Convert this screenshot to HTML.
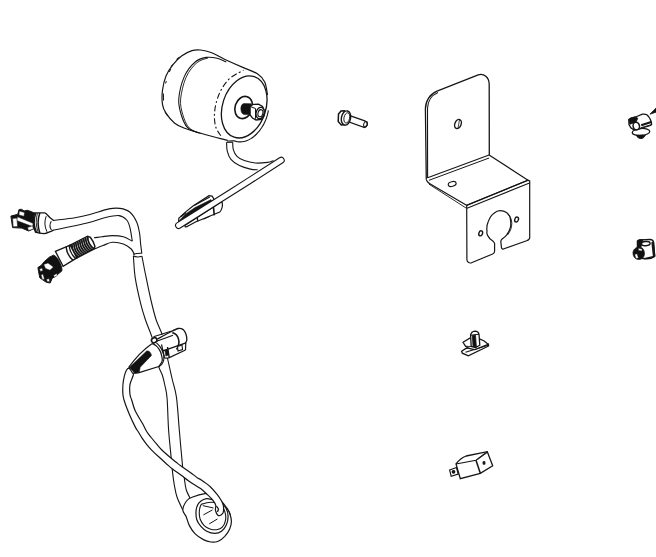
<!DOCTYPE html>
<html><head><meta charset="utf-8"><title>Parts diagram</title>
<style>html,body{margin:0;padding:0;background:#fff;width:656px;height:557px;overflow:hidden;font-family:"Liberation Sans",sans-serif;}</style>
</head><body>
<svg width="656" height="557" viewBox="0 0 656 557" style="display:block"><path d="M178.6 222.5 L178.8 218.2 L185.4 212.1 L193 206 L209 195.7 L212.1 196.1 L213.6 198.4 L213.6 200.8Z" fill="#fff" stroke="#151515" stroke-width="1.2" />
<path d="M179.3 220.5 L185.5 214 L195 207.6 L211 199.6 L212 201.5 L180 222.5Z" fill="#151515" stroke="#151515" stroke-width="0.5" />
<path d="M194.6 205.2 L209.8 196.9" fill="none" stroke="#151515" stroke-width="1.1" />
<path d="M181 216.5 L186 212.5" fill="none" stroke="#151515" stroke-width="1.6" />
<path d="M222 201.5 C222.8 205 222.6 209 219.7 212.1 L199.2 220.5 L196.9 221.2 L188.5 225.8 C187 226.8 186 227.2 185.2 226.8 L184.8 225.6 Z" fill="#fff" stroke="#151515" stroke-width="1.2" />
<path d="M213.4 206.8 L214.3 215.3" fill="none" stroke="#151515" stroke-width="1.6" />
<path d="M197.2 217.5 L197.9 221.5" fill="none" stroke="#151515" stroke-width="1.4" />
<path d="M203.5 219.2 L210 216.2" fill="none" stroke="#151515" stroke-width="1.0" />
<path d="M281.2 160.3 C272.7 165.8 247.1 182.2 230 193 C212.9 203.8 187.2 220 178.6 225.4" fill="none" stroke="#151515" stroke-width="7.1000000000000005" stroke-linecap="round" stroke-linejoin="round"/>
<path d="M281.2 160.3 C272.7 165.8 247.1 182.2 230 193 C212.9 203.8 187.2 220 178.6 225.4" fill="none" stroke="#fff" stroke-width="4.9" stroke-linecap="round" stroke-linejoin="round"/>
<path d="M226.6 142.3 C226.7 143.7 226.5 148.1 227.2 150.9 C227.9 153.8 228.9 157 230.9 159.4 C232.9 161.8 236.2 163.9 239.4 165.5 C242.7 167.1 247.4 168.4 250.4 169.1 C253.4 169.8 256.5 169.7 257.7 169.8 L273.5 160.6 C272.5 160.9 270.4 162 267.4 162.4 C264.3 162.8 259 163.3 255.2 163 C251.3 162.7 247.3 161.7 244.3 160.6 C241.3 159.5 238.8 158.1 237 156.3 C235.2 154.5 234 151.9 233.3 149.6 C232.6 147.3 232.8 143.5 232.7 142.3Z" fill="#fff" stroke="none"/>
<path d="M226.6 142.3 C226.7 143.7 226.5 148.1 227.2 150.9 C227.9 153.8 228.9 157 230.9 159.4 C232.9 161.8 236.2 163.9 239.4 165.5 C242.7 167.1 247.4 168.4 250.4 169.1 C253.4 169.8 256.5 169.7 257.7 169.8" fill="none" stroke="#151515" stroke-width="1.1" />
<path d="M232.7 142.3 C232.8 143.5 232.6 147.3 233.3 149.6 C234 151.9 235.2 154.5 237 156.3 C238.8 158.1 241.3 159.5 244.3 160.6 C247.3 161.7 251.3 162.7 255.2 163 C259 163.3 264.3 162.8 267.4 162.4 C270.4 162 272.5 160.9 273.5 160.6" fill="none" stroke="#151515" stroke-width="1.1" />
<path d="M226.6 142.3 L232.7 142.3" fill="none" stroke="#151515" stroke-width="1.1" />
<path d="M227.6 140.3 C222.1 139.5 212.2 136.5 205 134.5 C197.8 132.5 189.8 130.2 184.7 128.3 C179.6 126.4 177.8 125.8 174.7 123.3 C171.6 120.8 168 116.3 166 113.2 C164 110.1 163.1 108.4 162.5 104.6 C161.9 100.8 161.9 95 162.5 90.2 C163.1 85.4 164.2 80.2 166 75.9 C167.8 71.6 170.5 67.8 173.2 64.4 C175.8 61 178.8 58 181.9 55.7 C185 53.4 188.9 51.6 192 50.6 C195.1 49.6 197.4 49.6 200.7 50 C204 50.4 207.7 51.3 211.7 52.8 C215.7 54.3 219.3 56.8 224.5 59.2 C229.7 61.6 237.3 65 242.8 67.4 C248.3 69.8 253.7 71.4 257.4 73.8 C261 76.2 263 78.5 264.7 82 C266.4 85.5 267.1 90 267.5 95 C267.9 100 267.9 107 267 112 C266.1 117 264.5 121.2 262 125 C259.5 128.8 256 132.6 252 135 C248 137.4 242.1 138.6 238 139.5 C233.9 140.4 233.1 141.1 227.6 140.3Z" fill="#fff" stroke="#151515" stroke-width="0" stroke="none"/>
<path d="M227.6 140.3 C223.8 139.3 212.2 136.5 205 134.5 C197.8 132.5 189.8 130.2 184.7 128.3 C179.6 126.4 177.8 125.8 174.7 123.3 C171.6 120.8 168 116.3 166 113.2 C164 110.1 163.1 108.4 162.5 104.6 C161.9 100.8 161.9 95 162.5 90.2 C163.1 85.4 164.2 80.2 166 75.9 C167.8 71.6 170.5 67.8 173.2 64.4 C175.8 61 178.8 58 181.9 55.7 C185 53.4 188.9 51.6 192 50.6 C195.1 49.6 197.4 49.6 200.7 50 C204 50.4 207.7 51.3 211.7 52.8 C215.7 54.3 219.3 56.8 224.5 59.2 C229.7 61.6 237.3 65 242.8 67.4 C248.3 69.8 253.7 71.4 257.4 73.8 C261 76.2 263 78.5 264.7 82 C266.4 85.5 267 92.8 267.5 95" fill="none" stroke="#151515" stroke-width="1.2" />
<path d="M199 133 C197.1 132.1 190.4 130.6 187.4 127.4 C184.4 124.2 182.4 118.8 181 114 C179.6 109.2 178.2 104.7 178.8 98.5 C179.4 92.3 181.6 82.7 184.3 76.6 C187 70.5 191.5 65.2 195.2 62 C198.8 58.8 202.5 58 206.2 57.4 C209.9 56.8 213.8 57.5 217.2 58.3 C220.5 59.1 224.8 61.4 226.3 62" fill="none" stroke="#151515" stroke-width="1.1" />
<path d="M200.8 133.6 C198.9 132.7 192.2 131.2 189.2 128 C186.2 124.8 184.2 119.4 182.8 114.6 C181.4 109.8 180.1 105.3 180.6 99.1 C181.2 92.9 183.4 83.3 186.1 77.2 C188.8 71.1 193.3 65.8 197 62.6 C200.7 59.4 206.2 58.8 208 58" fill="none" stroke="#151515" stroke-width="0.9" />
<path d="M220.8 135.8 C220 134.5 217.1 130.9 216 127.7 C214.9 124.5 214.4 120.4 214.4 116.4 C214.4 112.4 214.9 107.8 216 103.5 C217.1 99.2 218.7 94.5 220.8 90.5 C223 86.5 225.9 82.2 228.9 79.2 C231.9 76.2 236.2 74.3 238.6 72.8 C241 71.3 242.7 70.7 243.5 70.3" fill="none" stroke="#151515" stroke-width="1.1" stroke-dasharray="6 2.5 2 2.5"/>
<path d="M176.5 59.2 L179.5 57" fill="none" stroke="#151515" stroke-width="1.0" />
<path d="M169.3 72 L170.8 69" fill="none" stroke="#151515" stroke-width="1.0" />
<path d="M165.6 83.5 L166.3 81" fill="none" stroke="#151515" stroke-width="1.0" />
<path d="M163.4 93.5 L163.5 100.5" fill="none" stroke="#151515" stroke-width="1.0" />
<path d="M165 112 L167.8 116.3" fill="none" stroke="#151515" stroke-width="1.0" />
<path d="M171 66.5 L172.5 64.5" fill="none" stroke="#151515" stroke-width="1.0" />
<ellipse cx="244.2" cy="106.9" rx="21.6" ry="31.9" transform="rotate(18.4 244.2 106.9)" fill="#fff" stroke="#151515" stroke-width="1.3"/>
<path d="M268.4 110.4 C268.3 111.2 267.8 113.4 267.4 114.9 C267 116.3 266.5 117.8 266 119.2 C265.4 120.6 264.8 122 264.1 123.4 C263.5 124.7 262.7 126 261.9 127.3 C261.1 128.5 260.3 129.7 259.4 130.9 C258.5 132 257.6 133 256.6 134 C255.6 135 254.6 135.9 253.6 136.7 C252.6 137.5 251.5 138.2 250.4 138.9 C249.4 139.5 248.3 140.1 247.2 140.5 C246.1 140.9 245 141.3 243.9 141.5 C242.8 141.7 241.7 141.9 240.6 141.9 C239.5 141.9 238.5 141.9 237.4 141.7 C236.4 141.5 236.1 141 234.4 140.9 C232.7 140.7 228.2 141 227 141" fill="none" stroke="#151515" stroke-width="1.1" />
<ellipse cx="243.7" cy="107.5" rx="8.6" ry="11.3" transform="rotate(18 243.7 107.5)" fill="#fff" stroke="#151515" stroke-width="1.6"/>
<path d="M251.3 103.8 L244 103.6 C241.5 103.8 240.8 107 240.9 109 C241 112 242 114.3 244.5 114.6 L251.3 114.6 Z" fill="#111" stroke="#151515" stroke-width="0.6" />
<path d="M250.1 106.5 L253 104.4 L258.5 104.2 L262.5 106.5 L264.1 110 L264 116 L261.5 119.5 L256 120 L252.5 118 L250.1 115Z" fill="#fff" stroke="#151515" stroke-width="1.3" />
<path d="M250.1 106.5 L255.5 108.5 L255.5 118.8" fill="none" stroke="#151515" stroke-width="1.0" />
<ellipse cx="260.1" cy="113" rx="4" ry="5.8" transform="rotate(15 260.1 113)" fill="#fff" stroke="#151515" stroke-width="1.3"/>
<ellipse cx="260.4" cy="113.2" rx="2.4" ry="3.6" transform="rotate(15 260.4 113.2)" fill="#fff" stroke="#151515" stroke-width="1.1"/>
<path d="M347 114.6 L364.8 120.9 L366.8 122.2 L367.3 125 L364.5 127.6 L346.5 121Z" fill="#fff" stroke="#151515" stroke-width="1.2" />
<ellipse cx="365.5" cy="124.3" rx="1.8" ry="2.9" transform="rotate(15 365.5 124.3)" fill="none" stroke="#151515" stroke-width="1.0"/>
<path d="M338.5 114 L341 111 L344.5 110.8 L345 124.5 L341.3 125 L338.2 121.5Z" fill="#fff" stroke="#151515" stroke-width="1.5" />
<ellipse cx="346" cy="118" rx="4.6" ry="7.2" transform="rotate(12 346 118)" fill="#fff" stroke="#151515" stroke-width="1.4"/>
<ellipse cx="346.8" cy="117.9" rx="2.8" ry="5.2" transform="rotate(12 346.8 117.9)" fill="none" stroke="#151515" stroke-width="0.9"/>
<path d="M426.3 179.5 L425.4 109 C425.4 101 430 94 437 91.2 L478.2 74.8 C484 73 489 77.5 489.2 84 L489.3 155" fill="#fff" stroke="#151515" stroke-width="1.3" />
<path d="M427.6 178 L427.5 108.5 C427.7 101 432 95 438 92.5" fill="none" stroke="#151515" stroke-width="1.1" />
<path d="M489.1 155 L427.6 177.7" fill="none" stroke="#151515" stroke-width="1.1" />
<path d="M489.1 158 L429 180.3" fill="none" stroke="#151515" stroke-width="1.0" />
<path d="M426.3 179.5 C427 182 429 183.5 432 185 L466.5 205.3" fill="none" stroke="#151515" stroke-width="1.2" />
<path d="M489.1 155 L528 180.2" fill="none" stroke="#151515" stroke-width="1.2" />
<path d="M429 184.2 L466 208" fill="none" stroke="#151515" stroke-width="0.9" />
<path d="M466.7 205.5 L466.9 259.5 C467 262 469 263.5 471.5 262.8 L492.7 254 C494 253.5 494.6 252.5 494.6 251 L494.6 243.4 C494 241 491.5 240 490.2 239 C487.5 236 486.5 233 487 231.4 C486.5 227 487 224 488.3 221.4 C490 217 492 214.5 494 213.2 C496 211.5 498 210.7 500.2 210.7 C503 210.7 505 211.5 506.5 212.6 C509 214.5 510.3 216.5 510.3 218.9 C511 222 511 225 510.3 227.6 C509.5 231 508 233 506.5 235.2 C505 237 503.5 238 502.1 239 C501 240 500.8 241 500.8 241.5 L501.5 247.8 C502 249 503 249.3 503.4 249 L526.6 240.8 C528.5 240 529.7 239 529.7 237.7 L529.7 181 L528 180.2 Z" fill="#fff" stroke="#151515" stroke-width="1.2" />
<path d="M508 214.5 C510.8 217 511.8 220 511.8 223.5 C511.8 228 510 232 507.5 235" fill="none" stroke="#151515" stroke-width="0.9" />
<path d="M466.5 205.3 L528 180.2" fill="none" stroke="#151515" stroke-width="1.1" />
<path d="M467 208.2 L529.5 183" fill="none" stroke="#151515" stroke-width="1.1" />
<ellipse cx="452.2" cy="184" rx="4" ry="2.3" transform="rotate(-15 452.2 184)" fill="none" stroke="#151515" stroke-width="1.2"/>
<ellipse cx="458" cy="124" rx="3.1" ry="4.7" transform="rotate(22 458 124)" fill="none" stroke="#151515" stroke-width="1.4"/>
<path d="M459.5 119.8 L458 128" fill="none" stroke="#151515" stroke-width="0.8" />
<ellipse cx="480.7" cy="233.3" rx="1.8" ry="2.6" transform="rotate(20 480.7 233.3)" fill="none" stroke="#151515" stroke-width="1.4"/>
<ellipse cx="516.6" cy="219.5" rx="1.8" ry="2.6" transform="rotate(20 516.6 219.5)" fill="none" stroke="#151515" stroke-width="1.4"/>
<ellipse cx="641" cy="132" rx="8.8" ry="3.5" transform="rotate(-4 641 132)" fill="#fff" stroke="#151515" stroke-width="1.3"/>
<path d="M636.3 135.2 C638 139.5 643.5 139.8 645.3 135.2 Z" fill="#111" stroke="#151515" stroke-width="1" />
<path d="M628.8 119.5 L631 118 L635.6 117 L642.4 114.2 C644 113.9 645.8 114.1 646.8 114.8 C648.5 116 650 118.5 651.3 121.7 L651.6 124.5 L650.5 125.5 L640.4 128.5 C637 130 633 129.8 631 128 L629 124.5 Z" fill="#fff" stroke="#151515" stroke-width="1.3" />
<path d="M628.8 119.5 L631 118 L635.6 117 L637.8 118.2 L636.2 121.8 L633 123.2 L629.8 124.2 Z" fill="#111" stroke="#151515" stroke-width="0.8" />
<ellipse cx="636.3" cy="126.1" rx="3.2" ry="3.8" transform="rotate(-10 636.3 126.1)" fill="#fff" stroke="#151515" stroke-width="1.5"/>
<path d="M641.2 125.2 L651.2 122" fill="none" stroke="#151515" stroke-width="2.2" />
<path d="M640.5 127.9 L650.8 124.8" fill="none" stroke="#151515" stroke-width="1.0" />
<path d="M649.9 114.2 L656 108.1 L656 112.2Z" fill="#111" stroke="#151515" stroke-width="0.8" />
<path d="M637.5 241 C638.5 239.5 642 239.5 650 239.5 C652 239.5 653.3 240.5 653.6 242.5 L654.5 256.5 C652 258.5 648 259 645 258.8 L640 258 L637.5 247 Z" fill="#fff" stroke="#151515" stroke-width="1.5" />
<path d="M637.5 241 C638.5 239.5 641 239.3 643 239.6 L642 243 L641 247 L638 247.5 Z" fill="#111" stroke="#151515" stroke-width="0.8" />
<ellipse cx="645.8" cy="243.6" rx="4.3" ry="2.1" transform="rotate(-5 645.8 243.6)" fill="#fff" stroke="#151515" stroke-width="1.4"/>
<path d="M652.6 242 L654.2 256.5" fill="none" stroke="#151515" stroke-width="2.6" />
<path d="M644.5 258.6 L654 256.5" fill="none" stroke="#151515" stroke-width="1.4" />
<path d="M633 253 C633 249.5 636 247 639.5 247 C643 247.2 644.5 250.5 644.4 254 C644.3 257.5 641.5 259.5 638.5 259.5 C635 259.3 633 256.5 633 253 Z" fill="#111" stroke="#151515" stroke-width="0.8" />
<path d="M634.8 254.5 L637 253.8 L638.4 258 L636 258.4Z" fill="#fff" stroke="#151515" stroke-width="0.3" />
<path d="M638.6 248.3 L642.2 249.2 L641.8 251 L638.4 250.3Z" fill="#fff" stroke="#151515" stroke-width="0.3" />
<path d="M461.6 351.2 L465.6 348.6 L488.2 343.9 L488.6 346 L468.3 355.8 L462.3 353.2 Z" fill="#fff" stroke="#151515" stroke-width="1.3" />
<path d="M465.5 352.3 L488 345.3" fill="none" stroke="#151515" stroke-width="1.1" />
<path d="M463 342.3 L469.8 338.2 L479.6 339 L484.2 341 L488.2 344.3 L474.9 349.6 C471 349.2 467.5 348 465.6 346.3 Z" fill="#fff" stroke="#151515" stroke-width="1.3" />
<path d="M470.6 335 C471 333 473 331.3 475 331.1 C477.3 331.1 478.6 332.3 479 334.3 L479.8 345.2 L475.5 347.6 L471.2 346.5 Z" fill="#fff" stroke="#151515" stroke-width="1.3" />
<path d="M472.4 335.6 L475.5 335.2 L476.4 347.2 L473 346.6 Z" fill="#111" stroke="#151515" stroke-width="0.8" />
<path d="M470.8 335.3 L474.5 334.8 L479 334.3" fill="none" stroke="#151515" stroke-width="1.1" />
<path d="M471.2 346.5 L465.6 346.3" fill="none" stroke="#151515" stroke-width="0.9" />
<path d="M449.6 470 L456.5 467.5 L458.2 474 L451.2 476.3Z" fill="#fff" stroke="#151515" stroke-width="1.2" />
<ellipse cx="453.5" cy="471.8" rx="1.2" ry="1.2" transform="rotate(0 453.5 471.8)" fill="#111" stroke="#151515" stroke-width="1.4"/>
<path d="M456 464 C459 460 462 457.5 466.2 456 L487.3 451.7 L492.7 465.7 L480.3 473.3 L460.3 478.6 Z" fill="#fff" stroke="#151515" stroke-width="1.3" />
<path d="M456 464 L476 460.3 L487.3 451.7" fill="none" stroke="#151515" stroke-width="1.2" />
<path d="M476 460.3 L480.3 473.3" fill="none" stroke="#151515" stroke-width="1.5" />
<path d="M477.5 459.5 L488 452" fill="none" stroke="#151515" stroke-width="0.8" />
<ellipse cx="484" cy="462.9" rx="0.9" ry="1.3" transform="rotate(0 484 462.9)" fill="#111" stroke="#151515" stroke-width="1.3"/>
<path d="M133.4 256 C133.7 259.6 134 269.7 135.2 277.6 C136.4 285.5 138.9 296.3 140.6 303.4 C142.3 310.5 143.6 314.4 145.5 320 C147.4 325.6 150.3 331.9 152 337.2 C153.7 342.5 154.4 347.1 155.5 352 C156.6 356.9 157.6 362.8 158.7 366.6 C159.8 370.4 161.3 371.9 162.3 375 C163.3 378.1 164 381.1 164.8 385 C165.6 388.9 166.5 391 167.1 398.5 C167.7 406 167.9 420.1 168.6 430 C169.3 439.9 170.6 451.4 171.2 458 C171.8 464.6 171.8 465.3 172.3 469.9 C172.8 474.5 173.6 481 174.4 485.5 C175.2 490 175.6 492.9 177 497 C178.4 501.1 181.8 507.8 182.8 509.9 L191.4 500.6 C190.6 498.8 187.5 493.9 186.3 490 C185.1 486.1 184.8 481.3 184.2 477.4 C183.6 473.5 183.4 474.5 182.6 466.6 C181.8 458.7 180.3 441.6 179.3 430 C178.3 418.4 177.6 405.2 176.4 396.9 C175.2 388.6 173.8 386 172.4 380 C171 374 169.7 368.3 168.1 361 C166.5 353.7 164.7 343 162.7 336.2 C160.7 329.4 158.2 326.1 156.2 320 C154.2 313.9 152.6 307.2 150.8 299.5 C149 291.8 146.8 280.8 145.3 273.5 C143.8 266.2 142.5 258.9 141.9 256Z" fill="#fff" stroke="none"/>
<path d="M133.4 256 C133.7 259.6 134 269.7 135.2 277.6 C136.4 285.5 138.9 296.3 140.6 303.4 C142.3 310.5 143.6 314.4 145.5 320 C147.4 325.6 150.3 331.9 152 337.2 C153.7 342.5 154.4 347.1 155.5 352 C156.6 356.9 157.6 362.8 158.7 366.6 C159.8 370.4 161.3 371.9 162.3 375 C163.3 378.1 164 381.1 164.8 385 C165.6 388.9 166.5 391 167.1 398.5 C167.7 406 167.9 420.1 168.6 430 C169.3 439.9 170.6 451.4 171.2 458 C171.8 464.6 171.8 465.3 172.3 469.9 C172.8 474.5 173.6 481 174.4 485.5 C175.2 490 175.6 492.9 177 497 C178.4 501.1 181.8 507.8 182.8 509.9" fill="none" stroke="#151515" stroke-width="1.1" />
<path d="M141.9 256 C142.5 258.9 143.8 266.2 145.3 273.5 C146.8 280.8 149 291.8 150.8 299.5 C152.6 307.2 154.2 313.9 156.2 320 C158.2 326.1 160.7 329.4 162.7 336.2 C164.7 343 166.5 353.7 168.1 361 C169.7 368.3 171 374 172.4 380 C173.8 386 175.2 388.6 176.4 396.9 C177.6 405.2 178.3 418.4 179.3 430 C180.3 441.6 181.8 458.7 182.6 466.6 C183.4 474.5 183.6 473.5 184.2 477.4 C184.8 481.3 185.1 486.1 186.3 490 C187.5 493.9 190.6 498.8 191.4 500.6" fill="none" stroke="#151515" stroke-width="1.1" />
<path d="M53 220.5 C56.7 220 68.8 218.7 75 217.7 C81.2 216.7 84.3 216 90 214.5 C95.7 213 103.9 209.9 108.9 208.9 C113.9 207.9 116.5 207.9 120 208.4 C123.5 208.9 127.2 209.9 130 212.2 C132.8 214.5 135.2 218.8 136.8 222.3 C138.4 225.8 138.9 229.7 139.6 233.4 C140.2 237.1 140.3 241.2 140.7 244.5 C141.1 247.8 141.6 252 141.8 253.5" fill="none" stroke="#151515" stroke-width="1.1" />
<path d="M54 230 C57.5 229.3 69 227.1 75 225.8 C81 224.5 85.1 223.6 90 222.3 C94.9 221 99.7 218.9 104.5 217.8 C109.3 216.7 115.3 215.2 119 215.6 C122.7 216 124.9 218 126.7 220 C128.5 222 129.1 224.3 130 227.8 C130.9 231.3 131.9 239 132.3 241.2" fill="none" stroke="#151515" stroke-width="1.1" />
<path d="M94 237.8 C95.3 237.6 99 237.2 102 236.8 C105 236.4 108.7 235.6 112.3 235.6 C115.9 235.6 120.1 235.8 123.4 236.7 C126.7 237.6 130.8 240.4 132.3 241.2" fill="none" stroke="#151515" stroke-width="1.1" />
<path d="M94.2 249.1 C95.7 248.5 100 246.6 103 245.5 C106 244.4 108.9 242.6 112.3 242.3 C115.7 242.1 120.2 242.9 123.4 244 C126.6 245.1 129.3 247.2 131.2 249 C133 250.8 133.9 253.7 134.5 254.6" fill="none" stroke="#151515" stroke-width="1.1" />
<path d="M132.9 254.3 C135 253.8 139 253.2 141.8 253.3" fill="none" stroke="#151515" stroke-width="1.1" />
<path d="M133.2 255.8 C136 257.5 139 257.2 141.9 256.3" fill="none" stroke="#151515" stroke-width="1.2" />
<path d="M182.8 509.9 C182.7 512.5 185 513.9 186.1 516.5 C187.2 519.1 187.9 522.7 189.4 525.6 C190.9 528.5 192.9 531.5 195.2 533.8 C197.5 536.1 200.8 538.2 203.4 539.6 C206 541 208.3 541.7 210.8 542 C213.3 542.3 215.9 542.2 218.2 541.2 C220.5 540.2 222.9 538.3 224.8 536.3 C226.7 534.2 228.6 531.4 229.7 528.9 C230.8 526.4 231.4 524.1 231.4 521.5 C231.4 518.9 230.5 515.5 229.7 513.2 C228.9 510.9 227.8 509.5 226.4 507.5 C225 505.5 223.4 503.1 221 501 C218.6 498.9 214.7 496.2 212 495 C209.3 493.8 208.2 493.2 204.9 493.6 C201.6 494 195.1 496 192 497.2 C188.9 498.4 188 498.9 186.5 501 C185 503.1 182.9 507.3 182.8 509.9Z" fill="#fff" stroke="#151515" stroke-width="1.2" />
<path d="M225 506.6 C225.6 507.2 227.6 509.1 228.5 510.5 C229.4 511.9 230.1 514.2 230.4 515" fill="none" stroke="#151515" stroke-width="1.0" />
<path d="M197.6 505 C196.8 506.8 196.1 509.1 196 511.6 C195.9 514.1 196 517.3 196.8 519.8 C197.6 522.3 199.2 524.5 200.9 526.4 C202.6 528.3 204.4 530.1 206.7 531.3 C209 532.5 212.4 533.4 214.9 533.4 C217.4 533.4 219.6 532.7 221.5 531.3 C223.4 529.9 225.3 527.3 226.4 524.8 C227.5 522.3 228.1 519.1 228.1 516.5 C228.1 513.9 227.6 511.5 226.4 509.1 C225.2 506.7 223.5 503.6 221 502 C218.5 500.4 213.8 499.9 211.4 499.4 C209 498.8 208.1 498.4 206.4 498.7 C204.7 499 202.5 499.9 201 501 C199.5 502.1 198.4 503.2 197.6 505Z" fill="#fff" stroke="#151515" stroke-width="1.2" />
<path d="M200.9 505 C200.2 506.3 199.4 509.3 199.3 511.6 C199.2 513.9 199.3 516.7 200.1 519 C200.9 521.3 202.5 524 204.2 525.6 C205.8 527.2 207.9 528.2 210 528.9 C212.1 529.6 214.5 530 216.6 529.7 C218.7 529.4 220.8 528.9 222.3 527.2 C223.8 525.6 225.2 522.4 225.6 519.8 C226 517.2 225.6 514 224.8 511.6 C224 509.2 222.8 507 221 505.5 C219.2 504 216 503 214.3 502.5 C212.6 502 212.5 502.1 210.7 502.3 C208.9 502.5 205.1 503.2 203.5 503.7 C201.9 504.1 201.6 503.7 200.9 505Z" fill="#fff" stroke="#151515" stroke-width="1.1" />
<path d="M203.4 514.9 L212.5 509.9" fill="none" stroke="#151515" stroke-width="1.0" />
<path d="M209.2 523.9 L217.4 519" fill="none" stroke="#151515" stroke-width="1.0" />
<path d="M202.8 505.6 L213.5 508" fill="none" stroke="#151515" stroke-width="1.0" />
<path d="M127.8 368.6 C126.1 369.8 124.3 376 123.5 380.1 C122.7 384.2 122.7 389.7 122.8 393 C122.9 396.3 123 396.6 124 400 C125 403.4 127.1 409 129 413.5 C130.9 418 133.6 423.8 135.2 426.9 C136.8 430 137.2 430.1 138.4 432 C139.6 433.9 140.7 436 142.1 438.1 C143.5 440.2 145.4 442.8 147 444.8 C148.6 446.8 149.9 448.3 151.9 450.3 C153.9 452.3 156.6 454.8 159 457 C161.4 459.2 164.1 461.7 166.3 463.7 C168.6 465.7 169.7 466.9 172.5 469 C175.3 471.1 179.8 474.2 183 476.6 C186.2 479 189.1 481.2 192 483.2 C194.9 485.2 198.1 486.7 200.6 488.6 C203.1 490.5 205.1 492.5 207.1 494.4 C209.1 496.3 211.4 498.3 212.8 500.1 C214.2 501.9 215.2 503.4 215.7 505.1 C216.1 506.8 215.1 508.8 215.5 510.5 C215.9 512.2 217 514.5 217.9 515.2 C218.8 516 220.1 515.5 221 515 C221.9 514.5 222.8 513.5 223.2 512.5 C223.6 511.4 223.6 509.9 223.6 508.7 C223.6 507.4 223.6 506.3 223.2 505 C222.8 503.7 222.4 502.6 221.4 500.8 C220.4 499 219 496.8 217.1 494.4 C215.2 492 212.6 488.9 210 486.5 C207.4 484.1 203.4 481.4 201.3 480 C199.2 478.6 199.4 479.2 197.6 477.9 C195.8 476.6 192.8 474.2 190.3 472.4 C187.8 470.6 184.6 468.4 182.4 466.9 C180.2 465.3 179.2 464.6 177.3 463.1 C175.4 461.7 173.8 460.4 171.2 458.2 C168.6 456 164 452 161.6 449.7 C159.2 447.4 158.4 446.2 156.7 444.2 C155 442.2 152.8 439.5 151.2 437.5 C149.6 435.5 148.5 434.4 147 432 C145.5 429.6 144.4 426.8 142.4 423.3 C140.4 419.8 137 414.7 135.2 410.8 C133.4 406.9 132.6 402.7 131.7 400 C130.8 397.3 130.3 397.1 130 394.5 C129.7 391.9 129.4 388 130 384.4 C130.6 380.8 134 375.6 133.6 373 C133.2 370.4 129.5 367.4 127.8 368.6Z" fill="#fff" stroke="#151515" stroke-width="1.2" />
<path d="M216.5 506 L218.5 509 L217.5 512" fill="none" stroke="#151515" stroke-width="1.3" />
<path d="M153 338 L169.5 332.3 L178.2 328.5 C181 327.8 183.5 329 186 334.2 C187 337 187 340 185.8 342.8 L185.5 350 L168.8 358 L164.5 358.2 L160 346 Z" fill="#fff" stroke="stroke="none"" stroke-width="0" />
<path d="M157.3 339.2 C159.3 338.1 166 334.3 169.5 332.5 C173 330.7 175.9 329 178.2 328.5 C180.5 328 181.9 328.7 183.2 329.6 C184.5 330.6 185.4 332.5 186 334.2 C186.6 335.9 186.9 338.5 186.8 340 C186.7 341.5 185.7 342.5 185.5 343" fill="none" stroke="#151515" stroke-width="1.3" />
<path d="M153.5 336.8 L171.7 331" fill="none" stroke="#151515" stroke-width="1.2" />
<path d="M156 341.5 L173 335.3" fill="none" stroke="#151515" stroke-width="1.2" />
<path d="M172.4 332.5 C173.1 333 175.6 333.9 176.7 335.3 C177.8 336.7 178.7 338.9 178.9 340.7 C179.2 342.5 178.6 344.9 178.2 346.4 C177.8 347.9 176.8 349 176.5 349.5" fill="none" stroke="#151515" stroke-width="1.6" />
<path d="M162.5 351 L169.5 348.6 L186 342.8" fill="none" stroke="#151515" stroke-width="1.4" />
<path d="M164.5 358.2 L168.8 357.9 L185.5 350" fill="none" stroke="#151515" stroke-width="1.3" />
<path d="M185.8 342.8 L185.5 350" fill="none" stroke="#151515" stroke-width="1.2" />
<path d="M161.5 344.5 L164.5 358" fill="none" stroke="#151515" stroke-width="1.2" />
<path d="M167.5 347 L169.3 357.8" fill="none" stroke="#151515" stroke-width="1.4" />
<path d="M165 350.5 L167.8 349.5 L168.6 355 L165.8 356 Z" fill="#111" stroke="#151515" stroke-width="0.6" />
<path d="M177.5 346.5 L182 345 L182.5 349.5 L178 351Z" fill="#fff" stroke="#151515" stroke-width="1.1" />
<path d="M128.9 367.2 C134 360 143 350 151.5 344 L152.9 343.6 C155.5 345 157.5 346.5 158.7 348.6 C160.3 351 161.3 353 161.5 355.1 C162 357 162.3 358.5 162.3 360.1 C162 362 161.5 363 160.8 363.7 L158.7 366.6 L139.1 372.6 L134.8 373.2 L132.6 373.2 Z" fill="#fff" stroke="#151515" stroke-width="1.2" />
<path d="M156.5 342.9 C157.2 343.7 159.6 345.9 160.8 347.9 C162 349.9 163.2 353.1 163.7 355.1 C164.2 357.1 164 358.6 163.7 360.1 C163.4 361.6 162.8 362.9 162 364 C161.2 365.1 159.5 366.3 159 366.8" fill="none" stroke="#151515" stroke-width="1.1" />
<path d="M129.4 367.5 L146.6 351.1 C148.5 350.5 150.5 351.5 151.5 355.4 L140.2 367.2 L139.1 372.6 L134.8 373.2 Z" fill="#111" stroke="#151515" stroke-width="0.6" />
<ellipse cx="154.2" cy="340.2" rx="2.8" ry="2.4" transform="rotate(-20 154.2 340.2)" fill="#fff" stroke="#151515" stroke-width="1.6"/>
<path d="M10.9 216.1 L17.8 214.3 L18.9 209.7 L21.2 209.2 L24.1 210.9 L27.5 210.3 L32.1 212 L35.6 213.8 L35 228.1 L28.7 231 L21.8 228.1 L12.6 227.6 Z" fill="#111" stroke="#151515" stroke-width="1.0" />
<path d="M17.5 216.8 L33.5 223.5 L32.5 226.5 L16.5 220.5Z" fill="#fff" stroke="#151515" stroke-width="0.5" />
<path d="M12.6 218.6 L16.8 218 L17.6 226.6 L13.2 226.8Z" fill="#fff" stroke="#151515" stroke-width="0.5" />
<path d="M19.3 211 L24.5 212.5 L24 216.3 L19 215Z" fill="#fff" stroke="#151515" stroke-width="0.5" />
<path d="M27.5 227.5 L32.5 225.8 L33.5 229 L28.5 230.5Z" fill="#fff" stroke="#151515" stroke-width="0.5" />
<path d="M34.5 213 C36 212.8 40 213 44.7 212.9 C46 213 47 214.5 49.8 217.5 L53.9 220.8 L53.9 229.8 L51 231.3 C48 232.5 46 233.6 44.1 233.6 L39.5 233.2 L35.5 232.2 C33.8 229 33.2 226 33.3 222.5 C33.5 218 34 215 34.5 213 Z" fill="#fff" stroke="stroke="none"" stroke-width="0" />
<path d="M53.9 220.8 L49.8 217.5 C47 214.5 46 213 44.7 212.9 C40 213 36 212.8 34.5 213 C34 215 33.5 218 33.3 222.5 C33.2 226 33.8 229 35.5 232.2 L39.5 233.2 L44.1 233.6 C46 233.6 48 232.5 51 231.3 L53.9 229.8" fill="none" stroke="#151515" stroke-width="1.3" />
<path d="M35.8 213.2 Q32.2 222.5 36.4 232.2" fill="none" stroke="#151515" stroke-width="1.5" />
<path d="M37.5 213.2 Q34.6 222.5 38.2 232.5" fill="none" stroke="#151515" stroke-width="0.9" />
<path d="M39.8 213.1 Q36.3 223 39.9 233.2" fill="none" stroke="#151515" stroke-width="1.5" />
<path d="M46.2 216.2 Q43.2 224 47 231.8" fill="none" stroke="#151515" stroke-width="1.0" />
<path d="M51.3 221.2 Q48.6 225.5 51.4 230" fill="none" stroke="#151515" stroke-width="1.1" />
<path d="M70.2 245.1 L87.6 236.2 L90.4 237.3 L93.1 241.5 L94.9 246.2 L94.1 248.9 L76.8 257.9Z" fill="#fff" stroke="#151515" stroke-width="1.5" />
<path d="M71.9 244.4 Q71.9 252.3 78.3 256.9" fill="none" stroke="#151515" stroke-width="1.8" />
<path d="M73.9 243.4 Q73.9 251.3 80.2 255.9" fill="none" stroke="#151515" stroke-width="1.8" />
<path d="M75.8 242.4 Q75.8 250.3 82.2 254.9" fill="none" stroke="#151515" stroke-width="1.8" />
<path d="M77.8 241.4 Q77.8 249.3 84.2 253.9" fill="none" stroke="#151515" stroke-width="1.8" />
<path d="M79.8 240.5 Q79.7 248.3 86.1 252.9" fill="none" stroke="#151515" stroke-width="1.8" />
<path d="M81.7 239.5 Q81.7 247.3 88.1 251.9" fill="none" stroke="#151515" stroke-width="1.8" />
<path d="M83.7 238.5 Q83.7 246.3 90.0 250.9" fill="none" stroke="#151515" stroke-width="1.8" />
<path d="M85.6 237.5 Q85.6 245.3 92.0 249.9" fill="none" stroke="#151515" stroke-width="1.8" />
<path d="M87.6 236.5 Q87.6 244.3 94.0 248.9" fill="none" stroke="#151515" stroke-width="1.8" />
<path d="M70.2 245.1 L55.4 251.3 L63.1 266.4 L76.8 257.9Z" fill="#fff" stroke="#151515" stroke-width="1.3" />
<path d="M69.1 245.5 Q69.8 253.4 75.8 258.6" fill="none" stroke="#151515" stroke-width="1.4" />
<path d="M66.1 246.9 Q66.8 254.9 72.9 260.1" fill="none" stroke="#151515" stroke-width="1.4" />
<path d="M37.9 267.5 L41.1 265.5 L44.3 261.6 L49.5 257.1 L53.5 255.2 C56.5 256 59 260 61 265.5 C62 268 62 269.5 61.8 271 L55 276.5 L52.1 278.4 L50.2 283 L46.3 282.3 L39.8 277.8 L38.5 271.3 Z" fill="#111" stroke="#151515" stroke-width="1.0" />
<path d="M43.7 264.5 L48 262.9 L53.4 267 L50 270.2 L45.5 268.5Z" fill="#fff" stroke="#151515" stroke-width="0.5" />
<path d="M39.5 269 L42 268 L43 270.5 L40.5 271.5Z" fill="#fff" stroke="#151515" stroke-width="0.5" />
<path d="M41 275 L43 274 L44.5 279 L42.5 279.8Z" fill="#fff" stroke="#151515" stroke-width="0.5" />
<path d="M46.5 279.2 L49 278.6 L49.8 281.5 L47.2 281.8Z" fill="#fff" stroke="#151515" stroke-width="0.5" />
<path d="M53.5 275.5 L56.5 273.5 L57.5 275.3 L54.5 277.3Z" fill="#fff" stroke="#151515" stroke-width="0.5" /></svg>
</body></html>
